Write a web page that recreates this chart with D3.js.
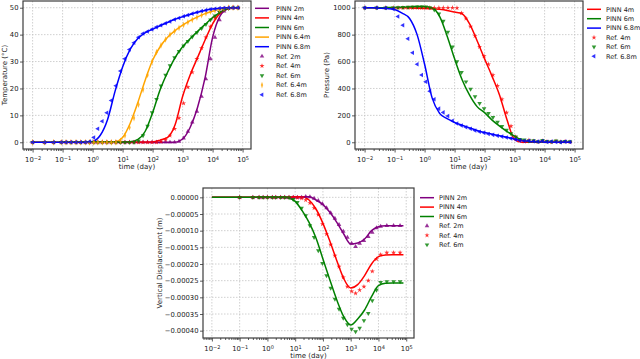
<!DOCTYPE html>
<html>
<head>
<meta charset="utf-8">
<script src="https://cdn.jsdelivr.net/npm/d3@7"></script>
<style>
body { margin: 0; background: #fff; }
svg { display: block; font-family: "DejaVu Sans", sans-serif; }
.grid line { stroke: #c4c4c4; stroke-width: 0.8; stroke-dasharray: 1.5,1.5; }
.axis path { display: none; }
.axis line { stroke: #333; stroke-width: 0.8; }
.axis text { fill: #222; font-size: 6.8px; font-family: "DejaVu Sans", sans-serif; }
.lab { fill: #222; font-size: 7px; }
.leg { fill: #222; font-size: 6.5px; }
</style>
</head>
<body>
<script>
// time grids (day)
var pinnTime = [0.01, 0.0178, 0.0316, 0.0562, 0.1, 0.178, 0.316, 0.562, 1, 1.78, 3.16, 5.62, 10, 17.8, 31.6, 56.2, 100, 178, 316, 562, 1000, 1780, 3160, 5620, 10000, 17800, 31600, 56200, 79400];
var refTime = [0.01, 0.025, 0.05, 0.09, 0.13, 0.19, 0.28, 0.4, 0.57, 0.8, 1.1, 1.5, 2.1, 3, 4.2, 6, 8.5, 12, 17, 24, 34, 48, 68, 96, 135, 190, 270, 380, 540, 760, 1080, 1500, 2100, 3000, 4300, 6000, 8500, 12000, 17000, 24000, 34000, 48000, 70000];
var dispTime = [0.1, 0.3, 0.5, 0.7, 1, 1.5, 2, 3, 4.2, 6, 8.5, 12, 17, 24, 34, 48, 68, 96, 135, 190, 270, 380, 540, 760, 1080, 1500, 2100, 3000, 4300, 6000, 8500, 12000, 20000, 35000, 60000];

// temperature (°C)
var tempPinn2m = [0,0,0,0,0,0,0,0,0,0,0,0,0,0,0,0,0,0,0,0, 1.2, 5.5, 13, 24, 39, 47, 49.5, 50, 50];
var tempPinn4m = [0,0,0,0,0,0,0,0,0,0,0,0,0,0,0,0, 0.1, 0.8, 1.8, 6.5, 17, 25, 31.5, 38, 44, 48, 49.7, 50, 50];
var tempPinn6m = [0,0,0,0,0,0,0,0,0,0,0,0,0, 0.2, 1, 4, 11, 19.5, 26, 31.5, 35.5, 38.5, 41.2, 43.8, 46.3, 48.3, 49.6, 50, 50];
var tempPinn64m = [0,0,0,0,0,0,0,0,0,0,0, 0.2, 1.8, 7, 14.5, 23, 30.5, 35.5, 39, 41.5, 43.5, 45.2, 46.6, 47.8, 48.7, 49.4, 49.9, 50, 50];
var tempPinn68m = [0,0,0,0,0,0,0,0, 0.3, 2.5, 8.5, 19, 28, 34.5, 38.5, 40.7, 42, 43.3, 44.5, 45.7, 46.6, 47.5, 48.3, 49, 49.5, 49.8, 50, 50, 50];

var tempRef2m = [0,0,0,0,0,0,0,0,0,0,0,0,0,0,0,0,0,0,0,0,0,0,0,0,0,0,0,0,0, 0.3, 1.5, 4, 7.5, 11.5, 17, 23.5, 31, 39, 45.5, 48.7, 49.8, 50, 50];
var tempRef4m = [0,0,0,0,0,0,0,0,0,0,0,0,0,0,0,0,0,0,0,0,0,0,0,0,0, 0.3, 1, 2.5, 5, 9, 14.5, 20.5, 26, 31, 35, 39, 43, 46.3, 48.5, 49.6, 50, 50, 50];
var tempRef6m = [0,0,0,0,0,0,0,0,0,0,0,0,0,0,0,0,0,0,0,0, 0.5, 2.5, 6, 11, 16, 21, 25, 28.5, 31.5, 33.8, 35.8, 37.5, 39.2, 40.8, 42.3, 43.8, 45.5, 47, 48.4, 49.3, 49.8, 50, 50];
var tempRef64m = [0,0,0,0,0,0,0,0,0,0,0,0,0,0,0,0, 0.5, 2.5, 5.5, 9, 14, 19.5, 25, 30, 33.5, 36, 38.2, 40, 41.3, 42.5, 43.6, 44.6, 45.5, 46.4, 47.2, 47.9, 48.5, 49, 49.4, 49.7, 50, 50, 50];
var tempRef68m = [0,0,0,0,0,0,0,0,0, 0.3, 1.8, 5, 7.8, 11, 15.5, 21, 26.5, 31, 34.5, 37, 39, 40.4, 41.2, 42, 42.8, 43.5, 44.2, 44.9, 45.6, 46.2, 46.8, 47.3, 47.8, 48.3, 48.8, 49.1, 49.4, 49.6, 49.8, 49.9, 50, 50, 50];

// pressure (Pa)
var presPinn4m = [1000, 1000, 1000, 1000, 1000, 999, 998, 997, 995, 993, 988, 980, 968, 955, 880, 755, 620, 490, 350, 165, 20, 0, 0, 0, 0, 0, 0, 0, 0];
var presPinn6m = [1000, 1000, 1000, 1001, 1002, 1004, 1006, 1008, 1008, 1000, 935, 790, 620, 465, 350, 265, 220, 165, 120, 80, 45, 15, 3, 1, 0, 0, 0, 0, 0];
var presPinn68m = [1000, 999, 997, 994, 987, 960, 920, 800, 580, 330, 215, 175, 148, 127, 107, 88, 72, 60, 49, 37, 24, 13, 6, 3, 1, 0, 0, 0, 0];

var presRef4m = [1000, 1000, 1000, 1000, 1000, 1000, 1000, 1000, 1000, 1000, 1000, 1000, 1000, 1000, 1000, 1000, 1000, 998, 960, 920, 860, 790, 710, 640, 580, 500, 420, 320, 220, 120, 40, 12, 5, 15, 8, 3, 10, 5, 2, 8, 3, 6, 2];
var presRef6m = [1000, 1000, 1000, 1000, 1002, 1003, 1005, 1006, 1008, 1008, 1006, 1000, 985, 955, 900, 820, 710, 600, 520, 450, 395, 340, 290, 250, 215, 185, 150, 118, 90, 65, 40, 22, 18, 10, 12, 6, 14, 8, 5, 10, 4, 8, 6];
var presRef68m = [1000, 1000, 998, 990, 935, 870, 770, 665, 580, 500, 450, 380, 320, 250, 222, 195, 160, 140, 125, 112, 100, 88, 78, 70, 62, 55, 48, 42, 35, 28, 20, 14, 9, 12, 8, 5, 10, 3, 6, 2, 1, 5, 2];

// vertical displacement (m)
var dispPinn2m = [0,0,0,0,0,0,0,0,0,0,0,0, 0.000001, 0.000002, 0.000002, -0.000008, -0.000022, -0.000045, -0.000075, -0.00011, -0.00014, -0.000137, -0.000125, -0.0001, -0.000088, -0.000085, -0.000085, -0.000085, -0.000085];
var dispPinn4m = [0,0,0,0,0,0,0,0,0,0,0,0, 0.000002, 0.000002, -0.000008, -0.000035, -0.000078, -0.000132, -0.00019, -0.000244, -0.000272, -0.000262, -0.000235, -0.0002, -0.000178, -0.000173, -0.000172, -0.000172, -0.000172];
var dispPinn6m = [0,0,0,0,0,0,0,0,0,0,0, -0.000002, -0.000012, -0.00004, -0.000075, -0.000122, -0.000185, -0.000248, -0.000308, -0.000358, -0.000383, -0.000365, -0.000338, -0.000298, -0.000265, -0.000258, -0.000257, -0.000257, -0.000257];

var dispRef2m = [0,0,0,0,0,0,0,0,0,0,0,0,0, 0.000002, 0.000001, -0.000003, -0.00001, -0.00002, -0.000032, -0.000047, -0.000063, -0.000082, -0.000102, -0.00012, -0.000138, -0.000148, -0.000138, -0.00013, -0.000118, -0.000105, -0.000092, -0.000087, -0.000085, -0.000085, -0.000085];
var dispRef4m = [0,0,0,0,0,0,0,0,0,0,0, -0.000001, -0.000003, -0.000008, -0.000017, -0.000032, -0.000052, -0.00008, -0.00011, -0.000142, -0.000175, -0.000208, -0.00024, -0.000268, -0.000282, -0.000288, -0.000278, -0.000268, -0.00025, -0.000222, -0.000185, -0.000172, -0.000166, -0.000166, -0.000166];
var dispRef6m = [0,0,0,0,0,0,0,0,0, -0.000001, -0.000006, -0.000015, -0.000032, -0.000055, -0.000085, -0.00012, -0.00016, -0.000198, -0.000235, -0.000272, -0.000305, -0.000335, -0.000362, -0.000382, -0.000395, -0.000403, -0.000392, -0.00037, -0.000348, -0.00031, -0.000278, -0.000255, -0.000253, -0.000253, -0.000253];

var timeTicks = [1e-2, 1e-1, 1e0, 1e1, 1e2, 1e3, 1e4, 1e5];
var tempTicks = [0, 10, 20, 30, 40, 50];
var presTicks = [0, 200, 400, 600, 800, 1000];
var dispTicks = [0, -0.00005, -0.0001, -0.00015, -0.0002, -0.00025, -0.0003, -0.00035, -0.0004];

var colors = { '2m': '#800080', '4m': '#ff0000', '6m': '#008000', '6.4m': '#ffa500', '6.8m': '#0000ff' };
var markers = { '2m': 'up', '4m': 'star', '6m': 'down', '6.4m': 'diamond', '6.8m': 'left' };

var W = 640, H = 359;
var xDomain = [Math.pow(10, -2.32), Math.pow(10, 5.28)];

var svg = d3.select('body').append('svg')
  .attr('width', W)
  .attr('height', H);

function markerPath(key) {
  var t = markers[key];
  var type = t === 'star' ? d3.symbolStar : (t === 'diamond' ? d3.symbolDiamond : d3.symbolTriangle);
  var size = t === 'star' ? 8 : (t === 'diamond' ? 13 : 9);
  return d3.symbol().type(type).size(size)();
}

function markerTransform(key, px, py) {
  var t = markers[key];
  var tr = 'translate(' + px + ',' + py + ')';
  if (t === 'down') tr += ' rotate(180)';
  if (t === 'left') tr += ' rotate(-90)';
  if (t === 'diamond') tr += ' scale(0.6,1)';
  return tr;
}

function panel(opt) {
  var g = svg.append('g')
    .attr('transform', 'translate(' + opt.left + ',' + opt.top + ')');

  var x = d3.scaleLog().domain(xDomain).range([0, opt.w]);
  var y = d3.scaleLinear().domain(opt.yDomain).range([opt.h, 0]);

  // grid
  var grid = g.append('g').attr('class', 'grid');
  grid.selectAll('.gx')
    .data(timeTicks)
    .enter()
    .append('line')
    .attr('x1', function (d) { return x(d); })
    .attr('x2', function (d) { return x(d); })
    .attr('y1', 0)
    .attr('y2', opt.h);
  grid.selectAll('.gy')
    .data(opt.yTicks)
    .enter()
    .append('line')
    .attr('x1', 0)
    .attr('x2', opt.w)
    .attr('y1', function (d) { return y(d); })
    .attr('y2', function (d) { return y(d); });

  var line = d3.line()
    .x(function (d) { return x(d[0]); })
    .y(function (d) { return y(d[1]); })
    .curve(d3.curveMonotoneX);

  opt.lines.forEach(function (s) {
    g.append('path')
      .datum(d3.zip(pinnTime, s.values))
      .attr('d', line)
      .attr('fill', 'none')
      .attr('stroke', colors[s.key])
      .attr('stroke-width', 1.5);
  });

  opt.refs.forEach(function (s) {
    g.append('g')
      .selectAll('path')
      .data(d3.zip(s.time, s.values))
      .enter()
      .append('path')
      .attr('d', markerPath(s.key))
      .attr('transform', function (d) { return markerTransform(s.key, x(d[0]), y(d[1])); })
      .attr('fill', colors[s.key])
      .attr('opacity', 0.8);
  });

  // frame
  g.append('rect')
    .attr('width', opt.w)
    .attr('height', opt.h)
    .attr('fill', 'none')
    .attr('stroke', '#3c3c3c')
    .attr('stroke-width', 1.2);

  // x axis
  var xa = g.append('g')
    .attr('class', 'axis')
    .attr('transform', 'translate(0,' + opt.h + ')')
    .call(d3.axisBottom(x).tickValues(timeTicks).tickSize(3.5).tickPadding(2.5)
      .tickFormat(function () { return '10'; }));
  xa.selectAll('.tick text')
    .attr('dy', '1.05em')
    .append('tspan')
    .attr('dy', '-0.45em')
    .attr('font-size', '5px')
    .text(function (d) {
      var e = Math.round(Math.log10(d));
      return e < 0 ? '\u2212' + (-e) : String(e);
    });

  var minors = [];
  for (var k = -3; k <= 5; k++) {
    for (var m = 2; m <= 9; m++) {
      var v = m * Math.pow(10, k);
      if (v > xDomain[0] && v < xDomain[1]) minors.push(v);
    }
  }
  g.append('g')
    .attr('class', 'axis')
    .attr('transform', 'translate(0,' + opt.h + ')')
    .call(d3.axisBottom(x).tickValues(minors).tickSize(2).tickFormat(''));

  // y axis
  g.append('g')
    .attr('class', 'axis')
    .call(d3.axisLeft(y).tickValues(opt.yTicks).tickSize(3).tickPadding(1.5).tickFormat(opt.yFormat));

  // labels
  g.append('text')
    .attr('class', 'lab')
    .attr('text-anchor', 'middle')
    .attr('x', opt.w / 2)
    .attr('y', opt.h + 20)
    .text('time (day)');

  g.append('text')
    .attr('class', 'lab')
    .attr('text-anchor', 'middle')
    .attr('transform', 'translate(' + opt.yLabelX + ',' + (opt.h / 2) + ') rotate(-90)')
    .text(opt.yLabel);

  // legend
  var items = opt.lines.map(function (s) { return { key: s.key, label: 'PINN ' + s.key, kind: 'line' }; })
    .concat(opt.refs.map(function (s) { return { key: s.key, label: 'Ref. ' + s.key, kind: 'mark' }; }));

  var lg = g.append('g')
    .attr('transform', 'translate(' + (opt.w + opt.legendDx) + ',' + opt.legendDy + ')');
  var rows = lg.selectAll('g')
    .data(items)
    .enter()
    .append('g')
    .attr('transform', function (d, i) { return 'translate(0,' + (i * opt.legendStep) + ')'; });

  rows.filter(function (d) { return d.kind === 'line'; })
    .append('line')
    .attr('x1', 0)
    .attr('x2', 14)
    .attr('stroke', function (d) { return colors[d.key]; })
    .attr('stroke-width', 1.5);

  rows.filter(function (d) { return d.kind === 'mark'; })
    .append('path')
    .attr('d', function (d) { return markerPath(d.key); })
    .attr('transform', function (d) { return markerTransform(d.key, 7, 0); })
    .attr('fill', function (d) { return colors[d.key]; })
    .attr('opacity', 0.8);

  rows.append('text')
    .attr('class', 'leg')
    .attr('x', opt.legendText)
    .attr('y', 2.3)
    .text(function (d) { return d.label; });
}

panel({
  left: 23, top: 1, w: 228, h: 148,
  yDomain: [-2.5, 52.5], yTicks: tempTicks, yFormat: d3.format('d'),
  yLabel: 'Temperature (\u00b0C)', yLabelX: -16.5,
  lines: [
    { key: '2m', values: tempPinn2m },
    { key: '4m', values: tempPinn4m },
    { key: '6m', values: tempPinn6m },
    { key: '6.4m', values: tempPinn64m },
    { key: '6.8m', values: tempPinn68m }
  ],
  refs: [
    { key: '2m', time: refTime, values: tempRef2m },
    { key: '4m', time: refTime, values: tempRef4m },
    { key: '6m', time: refTime, values: tempRef6m },
    { key: '6.4m', time: refTime, values: tempRef64m },
    { key: '6.8m', time: refTime, values: tempRef68m }
  ],
  legendDx: 4, legendDy: 7.3, legendStep: 9.6, legendText: 21
});

panel({
  left: 355, top: 1, w: 228, h: 148,
  yDomain: [-50, 1050], yTicks: presTicks, yFormat: d3.format('d'),
  yLabel: 'Pressure (Pa)', yLabelX: -26,
  lines: [
    { key: '4m', values: presPinn4m },
    { key: '6m', values: presPinn6m },
    { key: '6.8m', values: presPinn68m }
  ],
  refs: [
    { key: '4m', time: refTime, values: presRef4m },
    { key: '6m', time: refTime, values: presRef6m },
    { key: '6.8m', time: refTime, values: presRef68m }
  ],
  legendDx: 4, legendDy: 8.3, legendStep: 9.4, legendText: 19
});

panel({
  left: 203, top: 188, w: 211, h: 150,
  yDomain: [-0.000422, 0.000028], yTicks: dispTicks, yFormat: d3.format('.5f'),
  yLabel: 'Vertical Displacement (m)', yLabelX: -41.5,
  lines: [
    { key: '2m', values: dispPinn2m },
    { key: '4m', values: dispPinn4m },
    { key: '6m', values: dispPinn6m }
  ],
  refs: [
    { key: '2m', time: dispTime, values: dispRef2m },
    { key: '4m', time: dispTime, values: dispRef4m },
    { key: '6m', time: dispTime, values: dispRef6m }
  ],
  legendDx: 6, legendDy: 9.7, legendStep: 9.4, legendText: 19
});
</script>
</body>
</html>
